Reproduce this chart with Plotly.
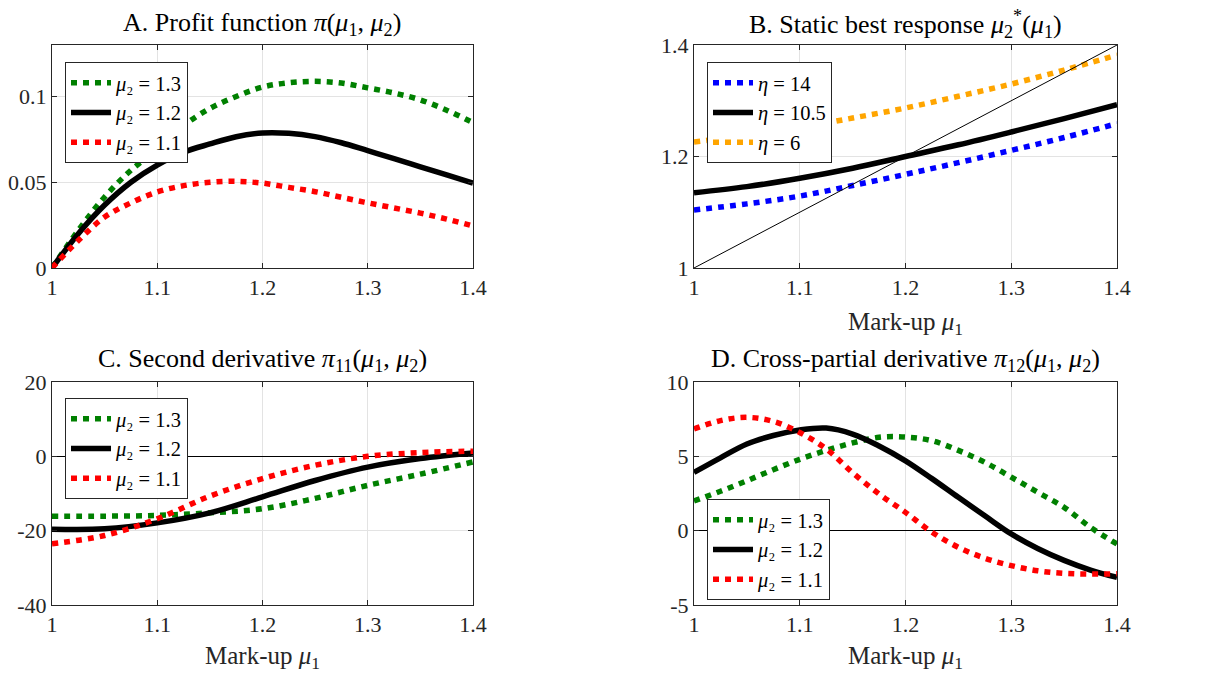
import plotly.graph_objects as go

# ---------------- data ----------------
x_a = [1.0, 1.025, 1.05, 1.075, 1.1, 1.125, 1.15, 1.175, 1.2, 1.225, 1.25, 1.275, 1.3, 1.325, 1.35, 1.375, 1.4]
a_mu13 = [0.0, 0.022, 0.0414, 0.057, 0.069, 0.083, 0.093, 0.100, 0.1055, 0.1080, 0.1088, 0.1078, 0.1050, 0.1020, 0.0980, 0.0920, 0.0847]
a_mu12 = [0.0, 0.020, 0.0367, 0.050, 0.060, 0.0675, 0.0723, 0.0765, 0.0787, 0.0785, 0.0766, 0.0730, 0.0684, 0.0638, 0.0590, 0.0543, 0.0495]
a_mu11 = [0.0, 0.016, 0.0297, 0.038, 0.0443, 0.0480, 0.0500, 0.0505, 0.0495, 0.0470, 0.0445, 0.0412, 0.0380, 0.0350, 0.0320, 0.0285, 0.0245]

x_b = [1.0, 1.05, 1.1, 1.15, 1.2, 1.25, 1.3, 1.35, 1.4]
b_eta14 = [1.104, 1.115, 1.129, 1.148, 1.168, 1.189, 1.211, 1.234, 1.259]
b_eta105 = [1.135, 1.146, 1.161, 1.179, 1.200, 1.221, 1.244, 1.268, 1.293]
b_eta6 = [1.226, 1.238, 1.252, 1.269, 1.287, 1.308, 1.330, 1.355, 1.382]
b_diag_x = [1.0, 1.4]
b_diag_y = [1.0, 1.4]

x_c = [1.0, 1.05, 1.1, 1.15, 1.2, 1.25, 1.3, 1.35, 1.4]
c_mu13 = [-16.1, -16.1, -15.9, -15.2, -14.1, -11.3, -7.8, -4.8, -1.5]
c_mu12 = [-19.6, -19.5, -17.9, -15.2, -10.9, -6.5, -2.9, -0.6, 0.9]
c_mu11 = [-23.5, -21.3, -16.8, -10.7, -6.0, -2.4, 0.0, 1.0, 1.4]

x_d = [1.0, 1.025, 1.05, 1.075, 1.1, 1.125, 1.15, 1.175, 1.2, 1.225, 1.25, 1.275, 1.3, 1.325, 1.35, 1.375, 1.4]
d_mu13 = [2.0, 2.65, 3.36, 4.1, 4.8, 5.4, 5.9, 6.28, 6.3, 6.05, 5.4, 4.6, 3.6, 2.58, 1.57, 0.22, -0.9]
d_mu12 = [3.92, 4.9, 5.83, 6.4, 6.77, 6.9, 6.5, 5.7, 4.7, 3.5, 2.24, 1.0, -0.22, -1.2, -2.0, -2.65, -3.14]
d_mu11 = [6.84, 7.4, 7.62, 7.35, 6.6, 5.5, 3.9, 2.47, 1.23, -0.1, -1.12, -1.85, -2.35, -2.7, -2.87, -2.92, -2.9]

x_ticks = [1, 1.1, 1.2, 1.3, 1.4]
x_ticktext = ["1", "1.1", "1.2", "1.3", "1.4"]
a_ticks = [0, 0.05, 0.1]
a_ticktext = ["0", "0.05", "0.1"]
b_ticks = [1, 1.2, 1.4]
b_ticktext = ["1", "1.2", "1.4"]
c_ticks = [-40, -20, 0, 20]
c_ticktext = ["-40", "-20", "0", "20"]
d_ticks = [-5, 0, 5, 10]
d_ticktext = ["-5", "0", "5", "10"]

mu_labels = ["<i>μ</i>₂ = 1.3", "<i>μ</i>₂ = 1.2", "<i>μ</i>₂ = 1.1"]
eta_labels = ["<i>η</i> = 14", "<i>η</i> = 10.5", "<i>η</i> = 6"]

titles = [
    "A. Profit function <i>π</i>(<i>μ</i><sub>1</sub>, <i>μ</i><sub>2</sub>)",
    "B. Static best response <i>μ</i><sub>2</sub><sup>*</sup>(<i>μ</i><sub>1</sub>)",
    "C. Second derivative <i>π</i><sub>11</sub>(<i>μ</i><sub>1</sub>, <i>μ</i><sub>2</sub>)",
    "D. Cross-partial derivative <i>π</i><sub>12</sub>(<i>μ</i><sub>1</sub>, <i>μ</i><sub>2</sub>)",
]
xlabel = "Mark-up <i>μ</i><sub>1</sub>"

# ---------------- styling ----------------
FONT = "Liberation Serif"
W, H = 1217, 674
GREEN, RED, BLUE, ORANGE, BLACK = "#008000", "#ff0000", "#0000ff", "#ffa500", "#000000"
DOT = "6px,6px"
LW = 5.5

def px_x(p):
    return p / W

def px_y(p):
    return 1 - p / H

fig = go.Figure()

def add(x, y, color, name, xa, ya, leg, dotted=True, width=LW, show=True):
    fig.add_trace(go.Scatter(
        x=x, y=y, mode="lines", name=name,
        line=dict(color=color, width=width, dash=DOT if dotted else "solid",
                  shape="spline", smoothing=1.0),
        xaxis=xa, yaxis=ya, legend=leg, showlegend=show, hoverinfo="skip"))

# Panel A
add(x_a, a_mu13, GREEN, mu_labels[0], "x", "y", "legend")
add(x_a, a_mu12, BLACK, mu_labels[1], "x", "y", "legend", dotted=False)
add(x_a, a_mu11, RED, mu_labels[2], "x", "y", "legend")
# Panel B
add(x_b, b_eta14, BLUE, eta_labels[0], "x2", "y2", "legend2")
add(x_b, b_eta105, BLACK, eta_labels[1], "x2", "y2", "legend2", dotted=False)
add(x_b, b_eta6, ORANGE, eta_labels[2], "x2", "y2", "legend2")
fig.add_trace(go.Scatter(x=b_diag_x, y=b_diag_y, mode="lines", line=dict(color=BLACK, width=1),
                         xaxis="x2", yaxis="y2", showlegend=False, hoverinfo="skip"))
# Panel C
add(x_c, c_mu13, GREEN, mu_labels[0], "x3", "y3", "legend3")
add(x_c, c_mu12, BLACK, mu_labels[1], "x3", "y3", "legend3", dotted=False)
add(x_c, c_mu11, RED, mu_labels[2], "x3", "y3", "legend3")
# Panel D
add(x_d, d_mu13, GREEN, mu_labels[0], "x4", "y4", "legend4")
add(x_d, d_mu12, BLACK, mu_labels[1], "x4", "y4", "legend4", dotted=False)
add(x_d, d_mu11, RED, mu_labels[2], "x4", "y4", "legend4")

# axis domains in pixels
left_cols = [(52, 473), (694, 1117)]
rows = [(45, 268), (382, 605)]

def xaxis(col, anchor):
    l, r = left_cols[col]
    return dict(domain=[px_x(l), px_x(r)], range=[1, 1.4], anchor=anchor,
                tickvals=x_ticks, ticktext=x_ticktext, ticks="inside", ticklen=5,
                tickcolor="#262626", showline=True, linecolor="#262626", linewidth=1,
                mirror="allticks", showgrid=True, gridcolor="#e3e3e3", gridwidth=1,
                zeroline=False, automargin=False,
                tickfont=dict(family=FONT, size=22, color="#262626"),
                fixedrange=True)

def yaxis(row, anchor, rng, tv, tt, zero):
    t, b = rows[row]
    return dict(domain=[px_y(b), px_y(t)], range=rng, anchor=anchor,
                tickvals=tv, ticktext=tt, ticks="inside", ticklen=5,
                tickcolor="#262626", showline=True, linecolor="#262626", linewidth=1,
                mirror="allticks", showgrid=True, gridcolor="#e3e3e3", gridwidth=1,
                zeroline=zero, zerolinecolor="#000000", zerolinewidth=1.2,
                automargin=False,
                tickfont=dict(family=FONT, size=22, color="#262626"),
                fixedrange=True)

def legend(lx, ty):
    return dict(x=px_x(lx), y=px_y(ty), xanchor="left", yanchor="top",
                bgcolor="white", bordercolor="#262626", borderwidth=1,
                font=dict(family=FONT, size=20.5, color="#000000"),
                tracegroupgap=0, itemwidth=40)

fig.update_layout(
    width=W, height=H, margin=dict(l=0, r=0, t=0, b=0, pad=0, autoexpand=False),
    paper_bgcolor="white", plot_bgcolor="white",
    showlegend=True,
    xaxis=xaxis(0, "y"), yaxis=yaxis(0, "x", [0, 0.13], a_ticks, a_ticktext, False),
    xaxis2=xaxis(1, "y2"), yaxis2=yaxis(0, "x2", [1, 1.4], b_ticks, b_ticktext, False),
    xaxis3=xaxis(0, "y3"), yaxis3=yaxis(1, "x3", [-40, 20], c_ticks, c_ticktext, True),
    xaxis4=xaxis(1, "y4"), yaxis4=yaxis(1, "x4", [-5, 10], d_ticks, d_ticktext, True),
    legend=legend(65, 62), legend2=legend(707, 62),
    legend3=legend(65, 398), legend4=legend(707, 499),
)

# titles and x labels
title_pos = [(262, 24), (905, 24), (262, 360), (905, 360)]
for txt, (cx, cy) in zip(titles, title_pos):
    fig.add_annotation(text=txt, x=px_x(cx), y=px_y(cy), xref="paper", yref="paper",
                       xanchor="center", yanchor="middle", showarrow=False,
                       font=dict(family=FONT, size=26, color="#000000"))
for cx, cy in [(905, 323), (262, 657), (905, 657)]:
    fig.add_annotation(text=xlabel, x=px_x(cx), y=px_y(cy), xref="paper", yref="paper",
                       xanchor="center", yanchor="middle", showarrow=False,
                       font=dict(family=FONT, size=25, color="#262626"))

fig.write_html("out.html")
